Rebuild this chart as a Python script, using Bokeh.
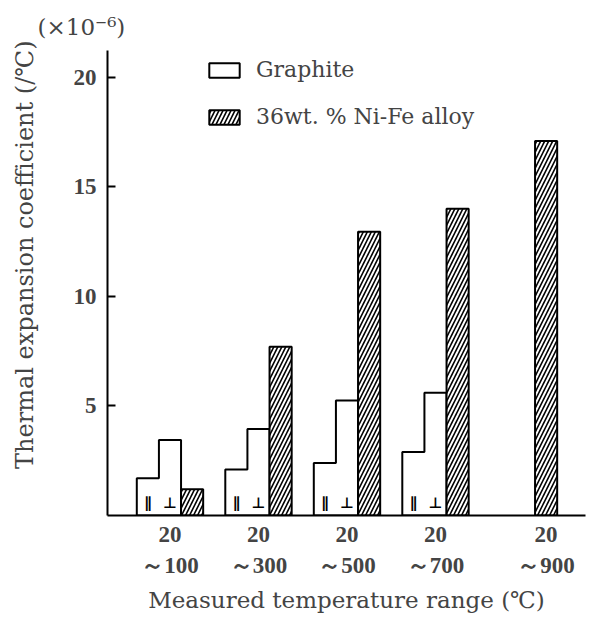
import math
from bokeh.plotting import figure
from bokeh.models import Range1d, FixedTicker, Title, Legend, LegendItem, ColumnDataSource
from bokeh.core.properties import value
from bokeh.embed import file_html
from bokeh.resources import INLINE

# ---- data ----
temp_ranges = ["20\n～100", "20\n～300", "20\n～500", "20\n～700", "20\n～900"]
graphite_parallel = [1.7, 2.1, 2.4, 2.9, None]
graphite_perpendicular = [3.45, 3.95, 5.25, 5.6, None]
nife_alloy = [1.2, 7.7, 12.95, 14.0, 17.1]
y_ticks = [5, 10, 15, 20]

W = 0.25  # bar width in group units

p = figure(frame_width=478, frame_height=465,
           x_range=Range1d(-0.706, 4.695), y_range=Range1d(0, 21.23),
           output_backend="svg", toolbar_location=None,
           min_border_left=107, min_border_right=3, min_border_top=50, min_border_bottom=20)
p.outline_line_color = None
p.grid.visible = False
p.background_fill_color = "white"
p.border_fill_color = "white"

# graphite stepped outlines (parallel | perpendicular)
gxs, gys, sym_x, sym_t = [], [], [], []
for i, (pa, pe) in enumerate(zip(graphite_parallel, graphite_perpendicular)):
    if pa is None:
        continue
    x0, x1, x2 = i - 1.5 * W, i - 0.5 * W, i + 0.5 * W
    gxs.append([x0, x0, x1, x1, x2, x2])
    gys.append([0, pa, pa, pe, pe, 0])
    sym_x += [i - W, i]
    sym_t += ["∥", "⊥"]

g = p.patches(gxs, gys, fill_color="white", line_color="black", line_width=2)

src = ColumnDataSource(dict(x=[i + W for i in range(len(nife_alloy))], top=nife_alloy))
n = p.vbar(x="x", top="top", width=W, bottom=0, source=src, fill_color="white",
           line_color="black", line_width=2, hatch_pattern="/", hatch_color="black",
           hatch_weight=1.6, hatch_scale=8)

p.text(x=sym_x, y=[0.18] * len(sym_x), text=sym_t, text_font=value("DejaVu Sans"),
       text_font_size="15px", text_font_style="bold", text_align="center",
       text_baseline="bottom", text_color="black")

# axes
tick_pos = [i if graphite_parallel[i] is not None else i + W for i in range(len(temp_ranges))]
p.xaxis.ticker = FixedTicker(ticks=tick_pos)
p.xaxis.major_label_overrides = {t: lab for t, lab in zip(tick_pos, temp_ranges)}
p.xaxis.major_tick_line_color = None
p.xaxis.minor_tick_line_color = None
p.xaxis.axis_line_width = 2
p.xaxis.major_label_text_font = "Liberation Serif"
p.xaxis.major_label_text_font_size = "23px"
p.xaxis.major_label_text_font_style = "bold"
p.xaxis.major_label_text_line_height = 1.25
p.xaxis.major_label_standoff = 0
p.xaxis.axis_label = "Measured temperature range (℃)"
p.xaxis.axis_label_text_font = "DejaVu Serif"
p.xaxis.axis_label_text_font_size = "23px"
p.xaxis.axis_label_text_font_style = "normal"
p.xaxis.axis_label_standoff = 6

p.yaxis.ticker = FixedTicker(ticks=y_ticks)
p.yaxis.major_tick_in = 8
p.yaxis.major_tick_out = 0
p.yaxis.major_tick_line_width = 2
p.yaxis.minor_tick_line_color = None
p.yaxis.axis_line_width = 2
p.yaxis.major_label_text_font = "Liberation Serif"
p.yaxis.major_label_text_font_size = "23px"
p.yaxis.major_label_text_font_style = "bold"
p.yaxis.major_label_standoff = 11
p.yaxis.axis_label = " "
p.yaxis.axis_label_text_font_size = "23px"
p.yaxis.axis_label_standoff = 3

p.add_layout(Title(text="Thermal expansion coefficient (/℃)", align="right", offset=-10,
                   standoff=0, text_font="DejaVu Serif", text_font_size="24px",
                   text_font_style="normal"), "left")
p.add_layout(Title(text="(×10⁻⁶)", align="left", offset=-70, standoff=22,
                   text_font="DejaVu Serif", text_font_size="23px",
                   text_font_style="normal"), "above")

legend = Legend(items=[LegendItem(label="Graphite", renderers=[g]),
                       LegendItem(label="36wt. % Ni-Fe alloy", renderers=[n])],
                location=(98, 386), padding=0, margin=0, spacing=22,
                glyph_width=38, glyph_height=18, label_height=20, label_standoff=13,
                label_text_font="DejaVu Serif", label_text_font_size="22px",
                border_line_color=None, background_fill_alpha=0)
p.add_layout(legend)

open("out.html", "w").write(file_html(p, INLINE))
